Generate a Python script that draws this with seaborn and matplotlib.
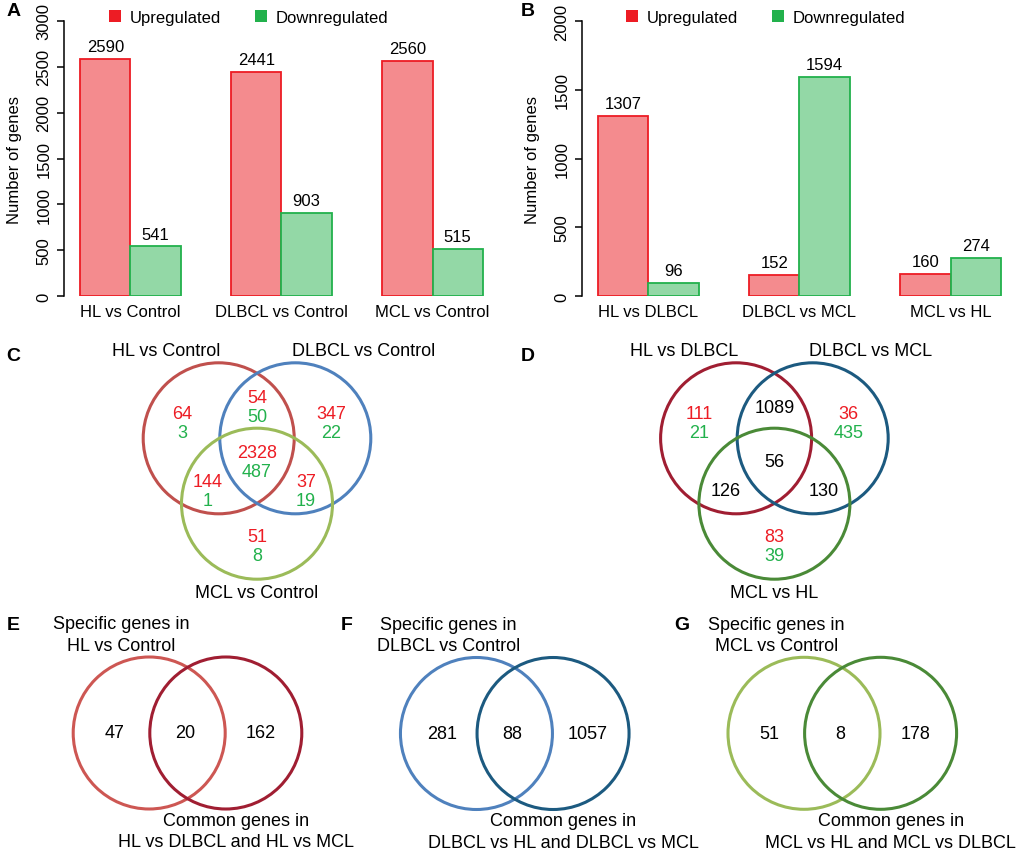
import matplotlib
matplotlib.use("Agg")
import matplotlib.pyplot as plt
from matplotlib.patches import Circle, Patch
import pandas as pd
import seaborn as sns

sns.set_theme(style="white")
plt.rcParams["font.family"] = ["Liberation Sans", "DejaVu Sans"]
plt.rcParams["text.color"] = "black"
plt.rcParams["axes.labelcolor"] = "black"
plt.rcParams["xtick.color"] = "black"
plt.rcParams["ytick.color"] = "black"

# ---- data ----
directions = ["Upregulated", "Downregulated"]

groups_a = ["HL vs Control", "DLBCL vs Control", "MCL vs Control"]
up_a = [2590, 2441, 2560]
down_a = [541, 903, 515]

groups_b = ["HL vs DLBCL", "DLBCL vs MCL", "MCL vs HL"]
up_b = [1307, 152, 160]
down_b = [96, 1594, 274]

# venn regions: A only, A&B, B only, A&B&C, A&C, B&C, C only
sets_c = ["HL vs Control", "DLBCL vs Control", "MCL vs Control"]
up_c = [64, 54, 347, 2328, 144, 37, 51]
down_c = [3, 50, 22, 487, 1, 19, 8]

sets_d = ["HL vs DLBCL", "DLBCL vs MCL", "MCL vs HL"]
up_d = [111, None, 36, None, None, None, 83]
down_d = [21, None, 435, None, None, None, 39]
total_d = [None, 1089, None, 56, 126, 130, None]

# two-set venns: specific only, shared, common only
labels_e = ["Specific genes in\nHL vs Control", "Common genes in\nHL vs DLBCL and HL vs MCL"]
counts_e = [47, 20, 162]
labels_f = ["Specific genes in\nDLBCL vs Control", "Common genes in\nDLBCL vs HL and DLBCL vs MCL"]
counts_f = [281, 88, 1057]
labels_g = ["Specific genes in\nMCL vs Control", "Common genes in\nMCL vs HL and MCL vs DLBCL"]
counts_g = [51, 8, 178]

# ---- styles ----
UP_FILL, UP_EDGE = "#f48b8e", "#ed1c24"
DOWN_FILL, DOWN_EDGE = "#93d8a6", "#22b14c"
TXT_RED, TXT_GREEN = "#ed1c24", "#22b14c"

W, H = 1020, 854
fig = plt.figure(figsize=(W / 100, H / 100), dpi=100)


def box(x0, y0, x1, y1):
    return [x0 / W, 1 - y1 / H, (x1 - x0) / W, (y1 - y0) / H]


def bar_panel(left_px, groups, up, down, ymax, leg_x):
    ax = fig.add_axes(box(left_px, 22, left_px + 436.5, 297))
    df = pd.DataFrame({
        "comparison": groups * 2,
        "direction": [directions[0]] * len(up) + [directions[1]] * len(down),
        "count": up + down,
    })
    sns.barplot(data=df, x="comparison", y="count", hue="direction",
                order=groups, hue_order=directions, palette=[UP_FILL, DOWN_FILL],
                saturation=1, width=2 / 3, legend=False, ax=ax)
    for cont, edge in zip(ax.containers, [UP_EDGE, DOWN_EDGE]):
        for bar in cont:
            bar.set_edgecolor(edge)
            bar.set_linewidth(1.3)
        ax.bar_label(cont, padding=3.5, fontsize=12)
    ax.set_xlim(-0.44, 2.45)
    ax.set_ylim(0, ymax)
    ax.set_xlabel("")
    ax.set_ylabel("")
    ax.set_yticks(range(0, ymax + 1, 500))
    ax.tick_params(axis="y", left=True, direction="out", length=5, width=1.1,
                   labelsize=12, pad=4)
    ax.tick_params(axis="x", length=0, labelsize=12, pad=6)
    for lbl in ax.get_yticklabels():
        lbl.set_rotation(90)
        lbl.set_va("center")
    for s in ["top", "right", "bottom"]:
        ax.spines[s].set_visible(False)
    ax.spines["left"].set_bounds(0, ymax)
    ax.spines["left"].set_linewidth(1.1)
    ax.spines["left"].set_color("black")
    ax.patch.set_alpha(0)
    fig.text((left_px - 49) / W, 1 - 160 / H, "Number of genes", rotation=90,
             ha="center", va="center", fontsize=12)
    handles = [Patch(facecolor=UP_EDGE, edgecolor="none"),
               Patch(facecolor=DOWN_EDGE, edgecolor="none")]
    fig.legend(handles, directions, loc="center left",
               bbox_to_anchor=(leg_x / W, 1 - 18.5 / H), ncol=2, frameon=False,
               fontsize=12, handlelength=0.72, handleheight=0.72,
               handletextpad=0.54, columnspacing=2.0, borderpad=0, borderaxespad=0)
    return ax


bar_panel(64, groups_a, up_a, down_a, 3000, 109)
bar_panel(582, groups_b, up_b, down_b, 2000, 626)

# overlay in pixel units for the venn diagrams
ov = fig.add_axes([0, 0, 1, 1])
ov.set_xlim(0, W)
ov.set_ylim(H, 0)
ov.axis("off")
ov.patch.set_alpha(0)

REGION_OFFSETS = [(-75, -15), (0, -31), (74, -15), (0, 23.5), (-49, 52.5), (49, 52.5), (0, 107.5)]


def venn3(cx, cy, colors, names, up, down, single=None):
    centers = [(cx - 38.3, cy), (cx + 38.3, cy), (cx, cy + 65.4)]
    for (x, y), col in zip(centers, colors):
        ov.add_patch(Circle((x, y), 75.5, fill=False, edgecolor=col, lw=2.2))
    ov.text(cx - 36.5, cy - 87.6, names[0], ha="right", va="center", fontsize=13)
    ov.text(cx + 34.7, cy - 87.6, names[1], ha="left", va="center", fontsize=13)
    ov.text(cx, cy + 154, names[2], ha="center", va="center", fontsize=13)
    if single is None:
        single = [None] * len(up)
    for (dx, dy), u, d, s in zip(REGION_OFFSETS, up, down, single):
        if s is not None:
            ov.text(cx + dx, cy + dy, str(s), ha="center", va="center", fontsize=13)
        else:
            ov.text(cx + dx, cy + dy - 9.5, str(u), ha="center", va="center",
                    fontsize=13, color=TXT_RED)
            ov.text(cx + dx, cy + dy + 9.5, str(d), ha="center", va="center",
                    fontsize=13, color=TXT_GREEN)


def venn2(cx, cy, colors, labels, counts):
    for x, col in zip([cx - 38.3, cx + 38.3], colors):
        ov.add_patch(Circle((x, cy), 76, fill=False, edgecolor=col, lw=2.2))
    ov.text(cx - 66, cy - 98.5, labels[0], ha="center", va="center",
            fontsize=13, linespacing=1.35)
    ov.text(cx + 48.5, cy + 98.2, labels[1], ha="center", va="center",
            fontsize=13, linespacing=1.35)
    for dx, n in zip([-73, -2, 73], counts):
        ov.text(cx + dx, cy, str(n), ha="center", va="center", fontsize=13)


venn3(257, 439.3, ["#c0504d", "#4f81bd", "#9bbb59"], sets_c, up_c, down_c)
venn3(774.4, 439.3, ["#a01e32", "#1c5a80", "#4a8a37"], sets_d, up_d, down_d, total_d)

venn2(187.5, 734, ["#cd5753", "#a01e32"], labels_e, counts_e)
venn2(514.75, 734.5, ["#4f81bd", "#1c5a80"], labels_f, counts_f)
venn2(842.3, 734.3, ["#9bbb59", "#4a8a37"], labels_g, counts_g)

# panel letters
for letter, x, y in [("A", 14, 12), ("B", 528, 12), ("C", 13, 357), ("D", 528, 357),
                     ("E", 13, 626), ("F", 347, 626), ("G", 682, 626)]:
    ov.text(x, y, letter, ha="center", va="center", fontsize=14, fontweight="bold")

fig.savefig("out.png", dpi=100)
plt.close(fig)
